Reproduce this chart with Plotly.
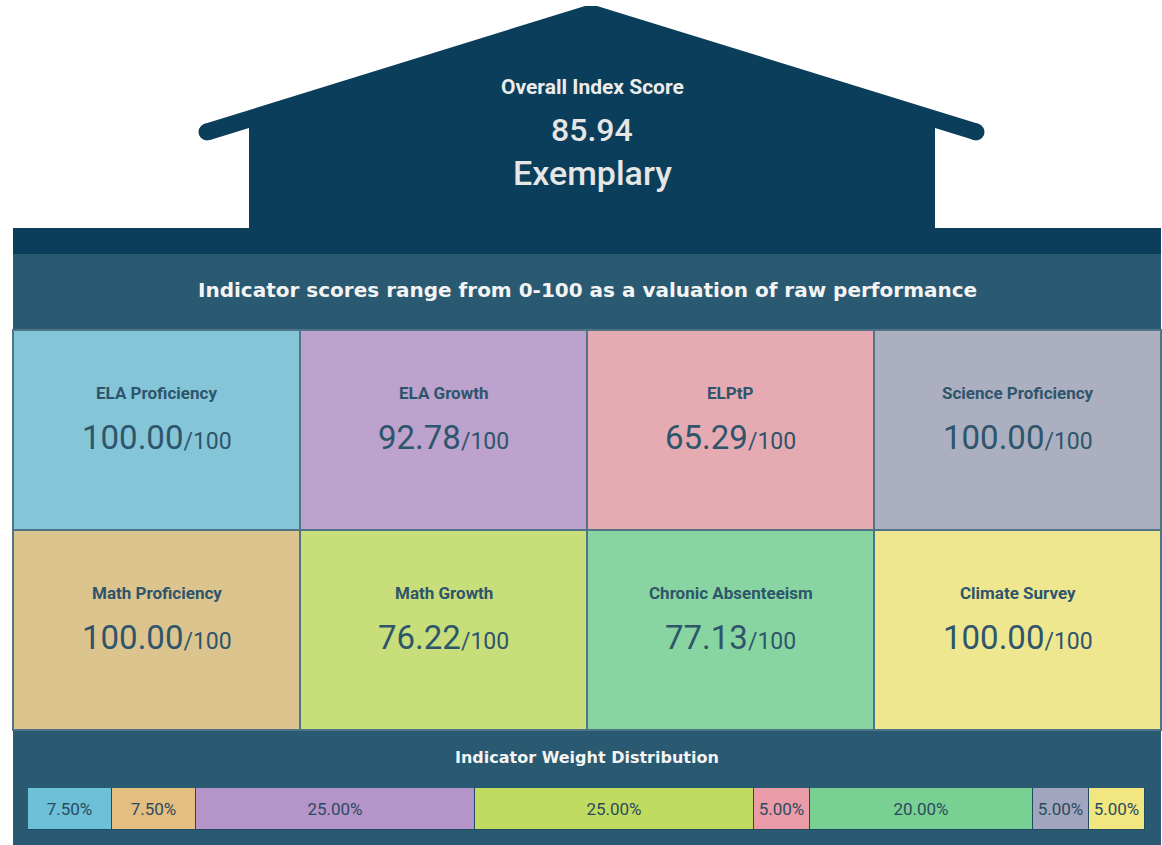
import plotly.graph_objects as go

# ---------------- data ----------------
overall_title = "Overall Index Score"
overall_score = 85.94
overall_rating = "Exemplary"
header_text = "Indicator scores range from 0-100 as a valuation of raw performance"
weight_title = "Indicator Weight Distribution"

tile_names = ["ELA Proficiency", "ELA Growth", "ELPtP", "Science Proficiency",
              "Math Proficiency", "Math Growth", "Chronic Absenteeism", "Climate Survey"]
tile_scores = [100.00, 92.78, 65.29, 100.00, 100.00, 76.22, 77.13, 100.00]
score_max = 100

weight_names = ["ELA Proficiency", "Math Proficiency", "ELA Growth", "Math Growth",
                "ELPtP", "Chronic Absenteeism", "Science Proficiency", "Climate Survey"]
weight_values = [7.5, 7.5, 25.0, 25.0, 5.0, 20.0, 5.0, 5.0]

# ---------------- styles ----------------
tile_colors = {
    "ELA Proficiency": "#84c5d7", "ELA Growth": "#bca2cc", "ELPtP": "#e6aab2",
    "Science Proficiency": "#abafc0", "Math Proficiency": "#dcc48e",
    "Math Growth": "#c7de7b", "Chronic Absenteeism": "#89d5a1", "Climate Survey": "#efe690",
}
weight_colors = {
    "ELA Proficiency": "#6cc0d7", "ELA Growth": "#b494c9", "ELPtP": "#e99ca7",
    "Science Proficiency": "#a1a5bd", "Math Proficiency": "#e3be80",
    "Math Growth": "#c0db60", "Chronic Absenteeism": "#78d192", "Climate Survey": "#f2e680",
}
DARK = "#0b3e5a"
BAND = "#295a72"
TEXT_DARK = "#2e556b"
BORDER = "#4f7487"
FONT = "Roboto"
WIDE = "DejaVu Sans"

W, H = 1162, 845
LEFT, RIGHT = 13, 1161
TILE_TOP, TILE_H, NCOLS = 330, 200, 4
CW = (RIGHT - LEFT) / NCOLS

fig = go.Figure()
shapes = []
ann = []

# ---------------- house ----------------
roof_path = ("M 585 6 L 597 6 L 979 124 L 974 140 L 935 128 L 935 229 L 249 229 "
             "L 249 128 L 210 140 L 204 124 Z")
shapes.append(dict(type="path", path=roof_path, xref="x", yref="y",
                   fillcolor=DARK, line=dict(width=0), layer="below"))
for cx in (207, 976):
    shapes.append(dict(type="circle", xref="x", yref="y", x0=cx - 8.5, x1=cx + 8.5,
                       y0=123.5, y1=140.5, fillcolor=DARK, line=dict(width=0), layer="below"))
shapes.append(dict(type="rect", xref="x", yref="y", x0=LEFT, x1=RIGHT, y0=228, y1=254,
                   fillcolor=DARK, line=dict(width=0), layer="below"))
shapes.append(dict(type="rect", xref="x", yref="y", x0=LEFT, x1=RIGHT, y0=254, y1=330,
                   fillcolor=BAND, line=dict(width=0), layer="below"))
shapes.append(dict(type="rect", xref="x", yref="y", x0=LEFT, x1=RIGHT, y0=729, y1=H + 2,
                   fillcolor=BAND, line=dict(width=0), layer="below"))

ann.append(dict(x=592, y=87, text=f"<b>{overall_title}</b>",
                font=dict(family=FONT, size=21, color="#ececec")))
ann.append(dict(x=592, y=130, text=f"{overall_score:.2f}",
                font=dict(family=FONT, size=32, color="#e6e6e6", weight=500)))
ann.append(dict(x=592, y=173, text=overall_rating,
                font=dict(family=FONT, size=34, color="#e6e6e6", weight=500)))
ann.append(dict(x=587, y=290, text=f"<b>{header_text}</b>",
                font=dict(family=WIDE, size=20, color="#f4f4f4")))
ann.append(dict(x=587, y=757, text=f"<b>{weight_title}</b>",
                font=dict(family=WIDE, size=16, color="#f4f4f4")))

# ---------------- tiles ----------------
for i, (name, score) in enumerate(zip(tile_names, tile_scores)):
    r, c = divmod(i, NCOLS)
    x0 = LEFT + c * CW
    y0 = TILE_TOP + r * TILE_H
    shapes.append(dict(type="rect", xref="x", yref="y", x0=x0, x1=x0 + CW, y0=y0, y1=y0 + TILE_H,
                       fillcolor=tile_colors[name], line=dict(color=BORDER, width=2), layer="below"))
    ann.append(dict(x=x0 + CW / 2, y=y0 + 63, text=f"<b>{name}</b>",
                    font=dict(family=FONT, size=17, color=TEXT_DARK)))
    ann.append(dict(x=x0 + CW / 2, y=y0 + 107,
                    text=f"{score:.2f}<span style='font-size:23px'>/{score_max}</span>",
                    font=dict(family=FONT, size=33, color=TEXT_DARK)))

for a in ann:
    a.update(xref="x", yref="y", showarrow=False, xanchor="center", yanchor="middle")

# ---------------- weight bar ----------------
for name, v in zip(weight_names, weight_values):
    fig.add_trace(go.Bar(
        x=[v], y=[0], orientation="h", width=1, xaxis="x2", yaxis="y2",
        marker=dict(color=weight_colors[name], line=dict(color="#1f4b61", width=1)),
        text=[f"{v:.2f}%"], textposition="inside", insidetextanchor="middle",
        textangle=0, constraintext="none",
        textfont=dict(family=FONT, size=17, color="#2c4a5f"),
        hoverinfo="skip", showlegend=False, name=name,
    ))

# invisible trace for main axes
fig.add_trace(go.Scatter(x=[0, W], y=[0, H], mode="markers", marker=dict(opacity=0),
                         hoverinfo="skip", showlegend=False))

fig.update_layout(
    width=W, height=H, margin=dict(l=0, r=0, t=0, b=0),
    paper_bgcolor="white", plot_bgcolor="rgba(0,0,0,0)",
    barmode="stack", bargap=0,
    shapes=shapes, annotations=ann,
    xaxis=dict(range=[0, W], domain=[0, 1], visible=False, fixedrange=True),
    yaxis=dict(range=[H, 0], domain=[0, 1], visible=False, fixedrange=True),
    xaxis2=dict(range=[0, sum(weight_values)], domain=[28 / W, 1145 / W], anchor="y2",
                visible=False, fixedrange=True),
    yaxis2=dict(range=[-0.5, 0.5], domain=[(H - 830) / H, (H - 788) / H], anchor="x2",
                visible=False, fixedrange=True),
    font=dict(family=FONT),
)

fig.write_html("out.html", config={"displayModeBar": False},
               post_script="document.body.style.margin='0';")
